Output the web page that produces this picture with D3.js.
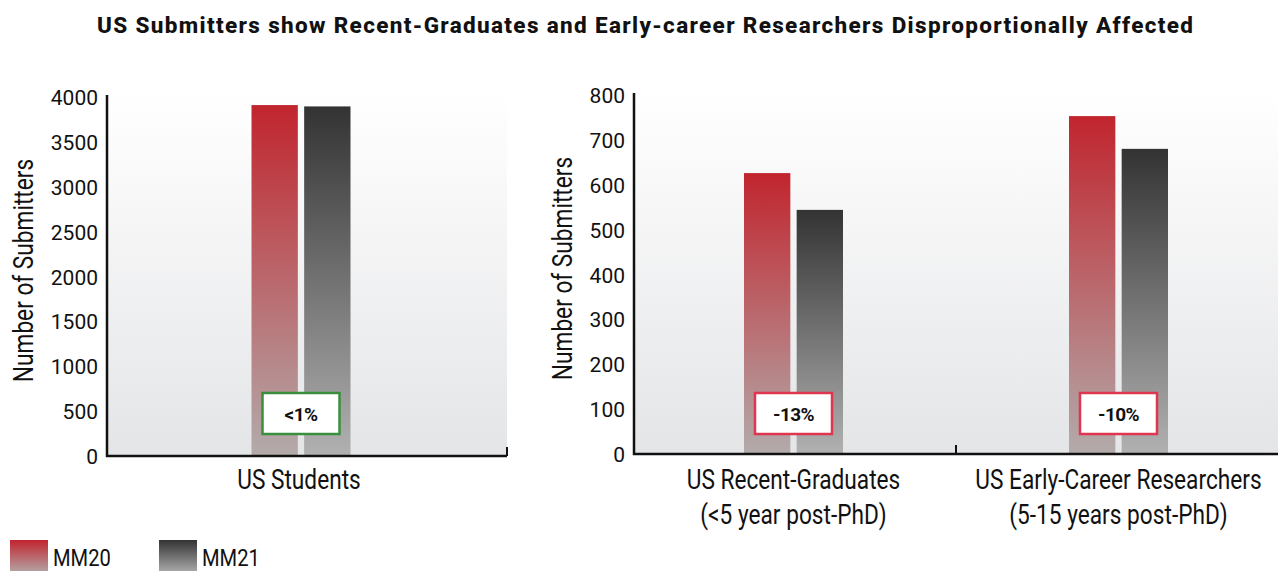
<!DOCTYPE html>
<html>
<head>
<meta charset="utf-8">
<script src="https://cdn.jsdelivr.net/npm/d3@7"></script>
<style>
  body { margin: 0; background: #fff; }
  text { font-family: Roboto, "Noto Sans", sans-serif; }
</style>
</head>
<body>
<div class="chart"></div>
<script>
const series = ["MM20", "MM21"];

const leftCategories = ["US Students"];
const leftMM20 = [3910];
const leftMM21 = [3895];
const leftChange = ["<1%"];
const leftTicks = [0, 500, 1000, 1500, 2000, 2500, 3000, 3500, 4000];

const rightCategories = ["US Recent-Graduates", "US Early-Career Researchers"];
const rightSubLabels = ["(<5 year post-PhD)", "(5-15 years post-PhD)"];
const rightMM20 = [626, 753];
const rightMM21 = [544, 680];
const rightChange = ["-13%", "-10%"];
const rightTicks = [0, 100, 200, 300, 400, 500, 600, 700, 800];

const width = 1278;
const height = 571;

const svg = d3
  .select(".chart")
  .append("svg")
  .attr("width", width)
  .attr("height", height);

const defs = svg.append("defs");

function gradient(id, top, bottom) {
  const g = defs
    .append("linearGradient")
    .attr("id", id)
    .attr("x1", 0)
    .attr("y1", 0)
    .attr("x2", 0)
    .attr("y2", 1);
  g.append("stop").attr("offset", "0%").attr("stop-color", top);
  g.append("stop").attr("offset", "100%").attr("stop-color", bottom);
}
gradient("grad-MM20", "#c1252e", "#b3abab");
gradient("grad-MM21", "#333333", "#b1b1b1");
gradient("grad-bg", "#ffffff", "#e4e5e7");

const fillFor = { MM20: "url(#grad-MM20)", MM21: "url(#grad-MM21)" };

// title
svg
  .append("text")
  .attr("x", 97)
  .attr("y", 33)
  .attr("font-family", "Inter, Roboto, sans-serif")
  .attr("font-weight", 800)
  .attr("font-size", "22.5px")
  .attr("textLength", 1096)
  .attr("lengthAdjust", "spacing")
  .attr("fill", "#111")
  .text("US Submitters show Recent-Graduates and Early-career Researchers Disproportionally Affected");

function panel(opts) {
  const rows = opts.categories.map((c, i) => ({
    cat: c,
    sub: opts.subLabels ? opts.subLabels[i] : null,
    MM20: opts.mm20[i],
    MM21: opts.mm21[i],
    change: opts.change[i]
  }));

  const y = d3.scaleLinear().domain([0, opts.max]).range([opts.bottom, opts.top]);
  const x0 = d3.scaleBand().domain(opts.categories).range(opts.barRange);
  const x1 = d3
    .scaleBand()
    .domain(series)
    .range([0, opts.groupWidth])
    .paddingInner(opts.innerPad);
  const cx = (c) => x0(c) + x0.bandwidth() / 2;

  const g = svg.append("g");

  // plot background
  g.append("rect")
    .attr("x", opts.left)
    .attr("y", opts.top - 4)
    .attr("width", opts.right - opts.left)
    .attr("height", opts.bottom - opts.top + 4)
    .attr("fill", "url(#grad-bg)");

  // bars
  const groups = g
    .selectAll(".grp")
    .data(rows)
    .join("g")
    .attr("class", "grp")
    .attr("transform", (d) => `translate(${cx(d.cat) - opts.groupWidth / 2},0)`);

  groups
    .selectAll("rect")
    .data((d) => series.map((s) => ({ key: s, value: d[s] })))
    .join("rect")
    .attr("x", (d) => x1(d.key))
    .attr("y", (d) => y(d.value))
    .attr("width", x1.bandwidth())
    .attr("height", (d) => y(0) - y(d.value))
    .attr("fill", (d) => fillFor[d.key]);

  // change boxes
  groups
    .append("rect")
    .attr("x", opts.groupWidth / 2 - opts.boxWidth / 2)
    .attr("y", 393)
    .attr("width", opts.boxWidth)
    .attr("height", 41)
    .attr("fill", "#fff")
    .attr("stroke", opts.boxColor)
    .attr("stroke-width", 2.5);

  groups
    .append("text")
    .attr("x", opts.groupWidth / 2)
    .attr("y", 421)
    .attr("text-anchor", "middle")
    .attr("font-family", "Inter, Roboto, sans-serif")
    .attr("font-weight", 700)
    .attr("font-size", "19px")
    .attr("letter-spacing", "-0.6px")
    .attr("fill", "#111")
    .text((d) => d.change);

  // y axis
  const yAxis = d3
    .axisLeft(y)
    .tickValues(opts.ticks)
    .tickSize(0)
    .tickPadding(9)
    .tickFormat(d3.format("d"));

  const yGroup = g
    .append("g")
    .attr("transform", `translate(${opts.left},0)`)
    .call(yAxis);
  yGroup.select(".domain").remove();
  yGroup
    .selectAll(".tick text")
    .attr("font-family", "Roboto, sans-serif")
    .attr("font-size", "21px")
    .attr("fill", "#111")
    .attr("dy", "0.36em");

  g.append("line")
    .attr("x1", opts.left)
    .attr("x2", opts.left)
    .attr("y1", opts.top - 2)
    .attr("y2", opts.bottom + 1)
    .attr("stroke", "#111")
    .attr("stroke-width", 2.5);

  // x axis line + ticks
  g.append("line")
    .attr("x1", opts.left - 1)
    .attr("x2", opts.right)
    .attr("y1", opts.bottom)
    .attr("y2", opts.bottom)
    .attr("stroke", "#111")
    .attr("stroke-width", 2.5);

  g.selectAll(".xtick")
    .data(opts.xTicks)
    .join("line")
    .attr("class", "xtick")
    .attr("x1", (d) => d)
    .attr("x2", (d) => d)
    .attr("y1", opts.bottom - 9)
    .attr("y2", opts.bottom)
    .attr("stroke", "#111")
    .attr("stroke-width", 2);

  // category labels
  const labels = g
    .selectAll(".xlabel")
    .data(rows)
    .join("text")
    .attr("class", "xlabel")
    .attr("text-anchor", "middle")
    .attr("font-size", "27px")
    .attr("fill", "#111")
    .attr("transform", (d) => `translate(${cx(d.cat) + opts.labelShift},489) scale(0.84,1)`);
  labels.append("tspan").attr("x", 0).attr("y", 0).text((d) => d.cat);
  labels
    .filter((d) => d.sub)
    .append("tspan")
    .attr("x", 0)
    .attr("y", 35)
    .text((d) => d.sub);

  // y label
  g.append("text")
    .attr("transform", `translate(${opts.yLabelX},${(opts.top + opts.bottom) / 2 - 6}) rotate(-90) scale(0.84,1)`)
    .attr("text-anchor", "middle")
    .attr("font-size", "27px")
    .attr("fill", "#111")
    .text("Number of Submitters");
}

panel({
  categories: leftCategories,
  mm20: leftMM20,
  mm21: leftMM21,
  change: leftChange,
  ticks: leftTicks,
  max: 4000,
  left: 107,
  right: 507,
  top: 97,
  bottom: 456,
  barRange: [107, 495],
  groupWidth: 99,
  innerPad: 0.12,
  boxWidth: 77,
  boxColor: "#3a8f3c",
  xTicks: [507],
  labelShift: -2,
  yLabelX: 33
});

panel({
  categories: rightCategories,
  subLabels: rightSubLabels,
  mm20: rightMM20,
  mm21: rightMM21,
  change: rightChange,
  ticks: rightTicks,
  max: 800,
  left: 634,
  right: 1278,
  top: 95,
  bottom: 454,
  barRange: [631, 1281],
  groupWidth: 99,
  innerPad: 0.12,
  boxWidth: 77,
  boxColor: "#e0354f",
  xTicks: [956],
  labelShift: 0,
  yLabelX: 572
});

// legend
const legend = svg
  .append("g")
  .selectAll("g")
  .data(series)
  .join("g")
  .attr("transform", (d, i) => `translate(${10 + i * 149},540)`);

legend
  .append("rect")
  .attr("width", 38)
  .attr("height", 34)
  .attr("fill", (d) => fillFor[d]);

legend
  .append("text")
  .attr("transform", "translate(43,26) scale(0.84,1)")
  .attr("font-size", "24px")
  .attr("fill", "#111")
  .text((d) => d);
</script>
</body>
</html>
